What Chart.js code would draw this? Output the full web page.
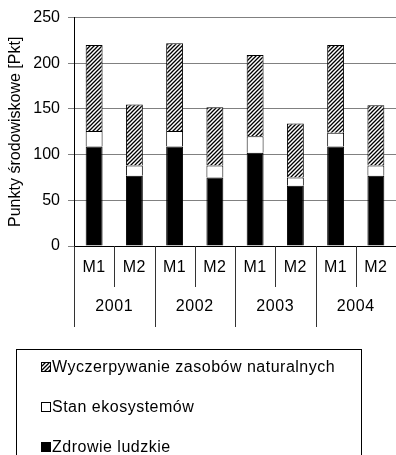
<!DOCTYPE html>
<html>
<head>
<meta charset="utf-8">
<script src="https://cdn.jsdelivr.net/npm/chart.js@4/dist/chart.umd.min.js"></script>
<style>
  html, body { margin: 0; padding: 0; background: #fff; }
  canvas { display: block; }
</style>
</head>
<body>
<canvas id="chart" width="396" height="455"></canvas>
<script>
// years and the two methods compared in each year
const years = ['2001', '2002', '2003', '2004'];
const methods = ['M1', 'M2'];

// stacked parts of each bar, in category order (2001 M1, 2001 M2, ...)
const zdrowieLudzkie = [109, 77, 109, 75, 102, 66, 109, 77];
const stanEkosystemow = [17, 11, 17, 13, 18, 9, 15, 11];
const wyczerpywanie = [94, 67, 96, 64, 89, 59, 96, 66];

const yTicks = [0, 50, 100, 150, 200, 250];

const labels = [];
years.forEach(y => methods.forEach(m => labels.push(m + ' ' + y)));

const FONT = "'Liberation Sans', Arial, sans-serif";

// diagonal hatch used for the resource depletion part
function hatch() {
    const c = document.createElement('canvas');
    c.width = 4;
    c.height = 4;
    const g = c.getContext('2d');
    g.fillStyle = '#fff';
    g.fillRect(0, 0, 4, 4);
    g.strokeStyle = '#000';
    g.lineWidth = 1.3;
    g.beginPath();
    g.moveTo(-1, 5); g.lineTo(5, -1);
    g.moveTo(-1, 1); g.lineTo(1, -1);
    g.moveTo(3, 5); g.lineTo(5, 3);
    g.stroke();
    return g.createPattern(c, 'repeat');
}

// two level category axis under the plot plus the framed legend
const groupAxis = {
    id: 'groupAxis',
    afterDraw(chart) {
        const ctx = chart.ctx;
        const x = chart.scales.x;
        const base = chart.chartArea.bottom;
        const step = x.getPixelForValue(1) - x.getPixelForValue(0);
        const start = x.getPixelForValue(0) - step / 2;
        ctx.save();
        ctx.strokeStyle = '#333';
        ctx.lineWidth = 1;
        for (let i = 0; i <= labels.length; i++) {
            const px = Math.round(start + i * step) + 0.5;
            ctx.beginPath();
            ctx.moveTo(px, base);
            ctx.lineTo(px, base + (i % 2 === 0 ? 81 : 41));
            ctx.stroke();
        }
        ctx.fillStyle = '#000';
        ctx.font = '16px ' + FONT;
        ctx.letterSpacing = '0.6px';
        ctx.textAlign = 'center';
        ctx.textBaseline = 'middle';
        labels.forEach((l, i) => {
            ctx.fillText(l.split(' ')[0], x.getPixelForValue(i), base + 22);
        });
        years.forEach((y, i) => {
            const c = (x.getPixelForValue(i * 2) + x.getPixelForValue(i * 2 + 1)) / 2;
            ctx.fillText(y, c, base + 61);
        });

        // legend
        ctx.strokeStyle = '#000';
        ctx.strokeRect(16.5, 349.5, 345, 120);
        ctx.textAlign = 'left';
        ctx.font = '16px ' + FONT;
        ctx.letterSpacing = '0.5px';
        const sets = chart.data.datasets.slice().reverse();
        sets.forEach((ds, i) => {
            const cy = 367 + i * 40;
            ctx.fillStyle = ds.backgroundColor;
            ctx.fillRect(41, cy - 5, 10, 10);
            ctx.strokeRect(41.5, cy - 4.5, 9, 9);
            ctx.fillStyle = '#000';
            ctx.fillText(ds.label, 52, cy + 1);
        });
        ctx.restore();
    }
};

new Chart(document.getElementById('chart'), {
    type: 'bar',
    data: {
        labels: labels,
        datasets: [
            { label: 'Zdrowie ludzkie', data: zdrowieLudzkie, backgroundColor: '#000' },
            { label: 'Stan ekosystemów', data: stanEkosystemow, backgroundColor: '#fff' },
            { label: 'Wyczerpywanie zasobów naturalnych', data: wyczerpywanie, backgroundColor: hatch() }
        ]
    },
    options: {
        responsive: false,
        animation: false,
        devicePixelRatio: 1,
        layout: { padding: { top: 13, right: 0, left: 0, bottom: 0 } },
        datasets: {
            bar: {
                barPercentage: 0.42,
                categoryPercentage: 1,
                borderColor: '#000',
                borderWidth: 1
            }
        },
        plugins: {
            legend: { display: false },
            tooltip: { enabled: false }
        },
        scales: {
            x: {
                stacked: true,
                grid: { display: false },
                ticks: { display: false },
                border: { color: '#000', width: 1 },
                afterFit(scale) { scale.height = 209; }
            },
            y: {
                stacked: true,
                min: 0,
                max: 250,
                afterBuildTicks(scale) { scale.ticks = yTicks.map(v => ({ value: v })); },
                afterFit(scale) { scale.width = 74; },
                ticks: {
                    color: '#000',
                    padding: 8,
                    font: { family: FONT, size: 16 }
                },
                grid: { color: '#808080', lineWidth: 1, tickLength: 6 },
                border: { color: '#000', width: 1 },
                title: {
                    display: true,
                    text: 'Punkty środowiskowe [Pkt]',
                    color: '#000',
                    font: { family: FONT, size: 16 },
                    padding: { top: 6, bottom: 0 }
                }
            }
        }
    },
    plugins: [groupAxis]
});
</script>
</body>
</html>
